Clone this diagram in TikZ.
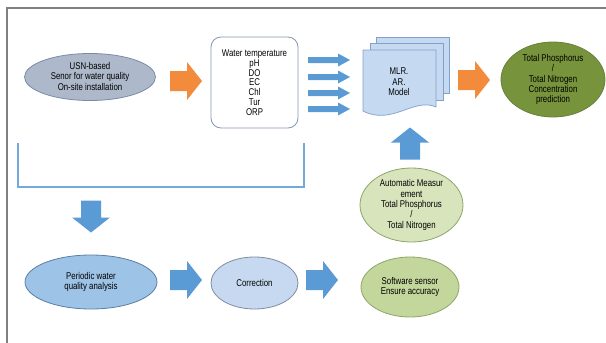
\documentclass[tikz,border=0pt]{standalone}
\usepackage{fontspec}
\setmainfont[FakeStretch=0.8]{Liberation Sans}
\usepackage{tikz}
\usetikzlibrary{shapes.geometric}

\definecolor{framegray}{RGB}{128,128,128}
\definecolor{usnfill}{RGB}{173,185,202}
\definecolor{usnline}{RGB}{120,140,168}
\definecolor{boxline}{RGB}{132,151,176}
\definecolor{arrorange}{RGB}{242,140,60}
\definecolor{arrblue}{RGB}{91,155,213}
\definecolor{docfill}{RGB}{197,218,240}
\definecolor{docline}{RGB}{130,160,205}
\definecolor{tpgreen}{RGB}{119,147,60}
\definecolor{tpline}{RGB}{100,130,60}
\definecolor{measfill}{RGB}{216,228,188}
\definecolor{greenline}{RGB}{142,165,106}
\definecolor{perfill}{RGB}{157,195,230}
\definecolor{perline}{RGB}{90,125,165}
\definecolor{corrfill}{RGB}{198,217,240}
\definecolor{corrline}{RGB}{127,140,159}
\definecolor{softfill}{RGB}{195,214,155}

\tikzset{
    big arrow/.pic={\fill[pic actions] (-16,-10) -- (1,-10) -- (1,-19) -- (16,0) -- (1,19) -- (1,10) -- (-16,10) -- cycle;},
    small arrow/.pic={\fill[pic actions] (-21,-3) -- (9,-3) -- (9,-6.5) -- (21,0) -- (9,6.5) -- (9,3) -- (-21,3) -- cycle;}
}

\begin{document}
\begin{tikzpicture}[x=1pt, y=-1pt,
    every node/.style={font=\fontsize{9.8}{10.4}\selectfont, align=center, inner sep=0pt},
    oval/.style={ellipse, draw, line width=0.8pt},
    ]
    \useasboundingbox (0,0) rectangle (606,343);
    \draw[framegray, line width=1.6pt] (7,343) -- (7,8) -- (606,8); % frame

    % top row
    \node[oval, fill=usnfill, draw=usnline, minimum width=131pt, minimum height=47pt] (usn) at (90,77) {\\[-5pt]USN-based\\Senor for water quality\\On-site installation};
    \node[draw=boxline, line width=0.8pt, rounded corners=10pt, minimum width=87pt, minimum height=91pt, font=\fontsize{9.8}{9.8}\selectfont] (params) at (254.5,82.5) {Water temperature\\pH\\DO\\EC\\Chl\\Tur\\ORP};

    % document stack
    \filldraw[fill=docfill, draw=docline, line width=0.7pt] (376,37) rectangle (449,93);
    \filldraw[fill=docfill, draw=docline, line width=0.7pt] (370,43) rectangle (443,100);
    \filldraw[fill=docfill, draw=docline, line width=0.7pt] (363,50) -- (436,50) -- (436,107) .. controls (414,97) and (392,126) .. (363,111) -- cycle;
    \node (model) at (399,82) {MLR.\\AR.\\Model};

    \node[oval, fill=tpgreen, draw=tpline, minimum width=104pt, minimum height=75pt] (pred) at (553,79.5) {Total Phosphorus\\/\\Total Nitrogen\\Concentration\\prediction};
    \node[oval, fill=measfill, draw=greenline, minimum width=103pt, minimum height=74pt] (meas) at (411.5,205) {Automatic Measur\\ement\\Total Phosphorus\\/\\Total Nitrogen};

    % bottom row
    \node[oval, fill=perfill, draw=perline, minimum width=132pt, minimum height=54pt] (periodic) at (91,282) {Periodic water\\quality analysis};
    \node[oval, fill=corrfill, draw=corrline, minimum width=87pt, minimum height=52pt] (corr) at (254.5,283) {Correction};
    \node[oval, fill=softfill, draw=greenline, minimum width=98pt, minimum height=60pt] (soft) at (410,287) {Software sensor\\Ensure accuracy};

    % bracket
    \coordinate (bra) at (18,143);
    \coordinate (brb) at (304,187);
    \coordinate (brc) at (304,143);
    \draw[arrblue!85, line width=1.8pt] (bra) |- (brb) -- (brc);

    % block arrows
    \pic[fill=arrorange] at (186,81) {big arrow};
    \pic[fill=arrorange] at (474,80) {big arrow};
    \foreach \y in {60,77,93,109}
        \pic[fill=arrblue] at (329,\y) {small arrow};
    \pic[fill=arrblue, rotate=90] at (410,143.5) {big arrow};
    \pic[fill=arrblue, rotate=-90] at (91,216.5) {big arrow};
    \pic[fill=arrblue] at (186,280) {big arrow};
    \pic[fill=arrblue] at (322,280) {big arrow};
\end{tikzpicture}
\end{document}
